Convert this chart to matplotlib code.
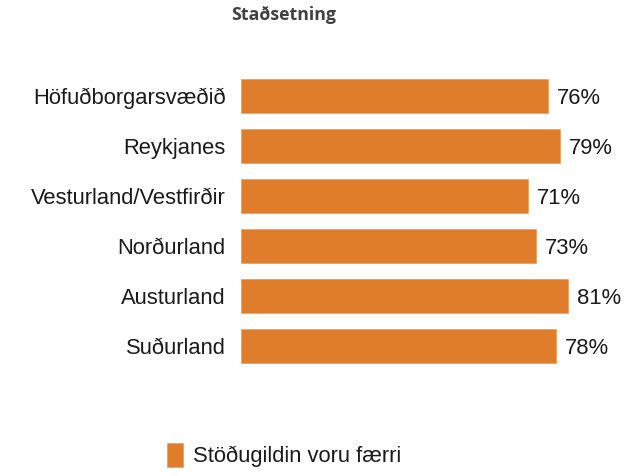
import matplotlib
matplotlib.use("Agg")
import matplotlib.pyplot as plt
from matplotlib.patches import Rectangle

categories = ["Höfuðborgarsvæðið", "Reykjanes", "Vesturland/Vestfirðir",
              "Norðurland", "Austurland", "Suðurland"]
values = [76, 79, 71, 73, 81, 78]
title = "Staðsetning"
legend_label = "Stöðugildin voru færri"
color = "#E07D2A"
fs = 15.8

fig = plt.figure(figsize=(6.41, 4.76), dpi=100)
ax = fig.add_axes([241/641, 1 - 371/476, 400/641, 300/476])
y = list(range(len(categories)))
ax.barh(y, values, height=0.68, color=color, edgecolor="#F0A060", linewidth=0.6)
ax.set_xlim(0, 99)
ax.set_ylim(len(categories) - 0.5, -0.5)
ax.set_yticks(y)
ax.set_yticklabels(categories, fontsize=fs, family="Liberation Sans", color="#1a1a1a")
ax.tick_params(axis="y", length=0, pad=11)
ax.set_xticks([])
for s in ax.spines.values():
    s.set_visible(False)
for yi, v in zip(y, values):
    ax.text(v + 2.2, yi + 0.05, f"{v}%", va="center", ha="left",
            fontsize=fs, family="Liberation Sans", color="#1a1a1a")

fig.text(284/641, 1 - 15/476, title, ha="center", va="center",
         fontsize=12.8, fontweight="bold", family="Open Sans", color="#404040")

fig.patches.append(Rectangle((167/641, 1 - 467/476), 16/641, 24/476,
                             transform=fig.transFigure, facecolor=color,
                             edgecolor="#F0A060", linewidth=0.6))
fig.text(193/641, 1 - 456/476, legend_label, ha="left", va="center",
         fontsize=fs, family="Liberation Sans", color="#1a1a1a")

fig.savefig("out.png", dpi=100, facecolor="white")
